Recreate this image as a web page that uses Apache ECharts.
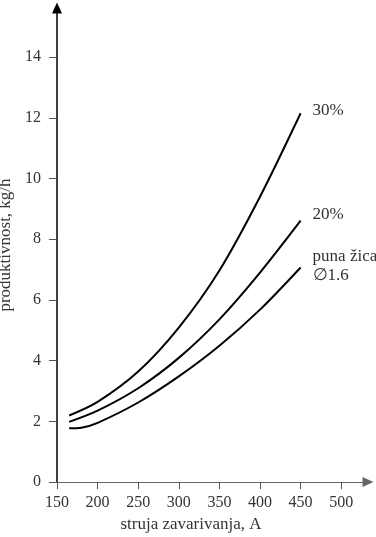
<!DOCTYPE html>
<html>
<head>
<meta charset="utf-8">
<script src="https://cdn.jsdelivr.net/npm/echarts@6/dist/echarts.min.js"></script>
<style>
html,body{margin:0;padding:0;background:#fff;}
#chart{width:376px;height:537px;}
</style>
</head>
<body>
<div id="chart"></div>
<script>
// Data
const amps = [165, 200, 250, 300, 350, 400, 450];
const s30 = [2.19, 2.64, 3.64, 5.09, 6.97, 9.40, 12.15];
const s20 = [1.98, 2.35, 3.09, 4.09, 5.36, 6.90, 8.61];
const ampsWire = [165, 180, 200, 250, 300, 350, 400, 450];
const sWire = [1.77, 1.79, 1.95, 2.62, 3.48, 4.49, 5.68, 7.07];
const seriesNames = ['30%', '20%', 'puna žica\n∅1.6'];
const xTicks = [150, 200, 250, 300, 350, 400, 450, 500];
const yTicks = [0, 2, 4, 6, 8, 10, 12, 14];
const xName = 'struja zavarivanja, A';
const yName = 'produktivnost, kg/h';

const font = '"Liberation Serif", "DejaVu Serif", serif';
const txt = '#333';

function pairs(xs, vals) { return xs.map((a, i) => [a, vals[i]]); }

const chart = echarts.init(document.getElementById('chart'), null, {renderer: 'canvas'});
const labelOffsets = [[4, -3], [4, -6], [4, -1]];
const seriesData = [pairs(amps, s30), pairs(amps, s20), pairs(ampsWire, sWire)];

chart.setOption({
  animation: false,
  backgroundColor: '#fff',
  grid: {left: 57, right: 8, top: 8, bottom: 55, containLabel: false, outerBoundsMode: 'none'},
  xAxis: {
    type: 'value', min: 150, max: 533,
    name: xName, nameLocation: 'middle', nameGap: 31,
    nameTextStyle: {fontFamily: font, fontSize: 17, color: txt, padding: [0, 43, 0, 0]},
    axisLine: {show: true, lineStyle: {color: '#666', width: 1}, symbol: ['none', 'triangle'], symbolSize: [10, 11]},
    axisTick: {show: true, inside: false, length: 7, lineStyle: {color: '#555'}, customValues: xTicks},
    axisLabel: {customValues: xTicks, fontFamily: font, fontSize: 16, color: txt, margin: 13},
    splitLine: {show: false}
  },
  yAxis: {
    type: 'value', min: 0, max: 15.62,
    name: yName, nameLocation: 'middle', nameGap: 39,
    nameTextStyle: {fontFamily: font, fontSize: 17, color: txt},
    axisLine: {show: true, lineStyle: {color: '#000', width: 1.5}, symbol: ['none', 'triangle'], symbolSize: [10, 11]},
    axisTick: {show: true, inside: false, length: 8, lineStyle: {color: '#555'}, customValues: yTicks},
    axisLabel: {customValues: yTicks, fontFamily: font, fontSize: 16, color: txt, margin: 16},
    splitLine: {show: false}
  },
  series: seriesData.map((data, i) => ({
    type: 'line',
    name: seriesNames[i],
    data: data,
    smooth: 0.3,
    showSymbol: false,
    lineStyle: {color: '#000', width: 2},
    endLabel: {
      show: true,
      formatter: seriesNames[i],
      fontFamily: font, fontSize: 17, color: txt,
      lineHeight: 19,
      align: 'left',
      distance: 8,
      offset: labelOffsets[i]
    }
  }))
});
</script>
</body>
</html>
